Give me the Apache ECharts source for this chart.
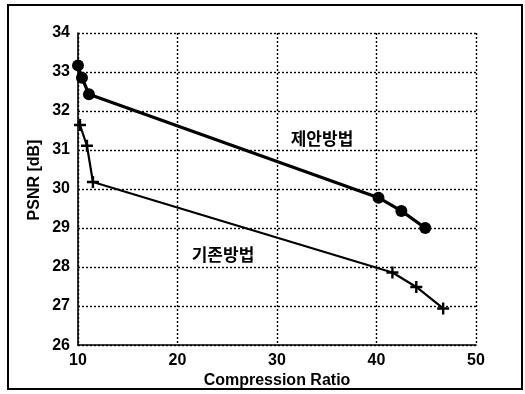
<!DOCTYPE html>
<html>
<head>
<meta charset="utf-8">
<script src="https://cdn.jsdelivr.net/npm/echarts@6/dist/echarts.min.js"></script>
<style>
  html, body { margin: 0; padding: 0; background: #fff; }
  #chart { width: 525px; height: 394px; }
</style>
</head>
<body>
<div id="chart"></div>
<script>
// Compression ratio vs. PSNR for the proposed and conventional methods
const proposedRatio = [10.0, 10.4, 11.1, 40.2, 42.5, 44.9];
const proposedPsnr  = [33.17, 32.85, 32.43, 29.78, 29.44, 29.0];
const conventionalRatio = [10.2, 10.9, 11.5, 41.6, 44.0, 46.7];
const conventionalPsnr  = [31.64, 31.11, 30.18, 27.86, 27.49, 26.94];
const proposedName = '제안방법';
const conventionalName = '기존방법';
const xTitle = 'Compression Ratio';
const yTitle = 'PSNR [dB]';

const pairs = (xs, ys) => xs.map((x, i) => [x, ys[i]]);

const numFont = { fontFamily: 'Liberation Sans', fontWeight: 'bold', fontSize: 16, color: '#000' };
const titleFont = { fontFamily: 'Liberation Sans', fontWeight: 'bold', fontSize: 16, color: '#000' };
const koFont = { fontFamily: 'Noto Sans CJK KR', fontWeight: 'bold', fontSize: 17, fill: '#000', align: 'center', verticalAlign: 'middle' };
const gridLine = { show: true, lineStyle: { color: '#000', type: [2, 2], width: 1.4 } };
const plusPath = 'path://M4,0 L6,0 L6,4 L10,4 L10,6 L6,6 L6,10 L4,10 L4,6 L0,6 L0,4 L4,4 Z';

const chart = echarts.init(document.getElementById('chart'), null, { renderer: 'canvas' });
chart.setOption({
  backgroundColor: '#fff',
  animation: false,
  grid: { left: 78, top: 33, width: 398, height: 315, containLabel: false },
  xAxis: {
    type: 'value', min: 10, max: 50, interval: 10,
    name: xTitle, nameLocation: 'middle', nameGap: 26,
    nameTextStyle: titleFont,
    axisLine: { show: true, lineStyle: { color: '#000', width: 1.6 } },
    axisTick: { show: false },
    axisLabel: Object.assign({ margin: 7 }, numFont),
    splitLine: gridLine
  },
  yAxis: {
    type: 'value', min: 26, max: 34, interval: 1,
    axisLine: { show: true, lineStyle: { color: '#000', width: 1.6 } },
    axisTick: { show: false },
    axisLabel: Object.assign({ margin: 8 }, numFont),
    splitLine: gridLine
  },
  series: [
    {
      name: proposedName, type: 'line',
      data: pairs(proposedRatio, proposedPsnr),
      symbol: 'circle', symbolSize: 12,
      lineStyle: { color: '#000', width: 3.2 },
      itemStyle: { color: '#000' }
    },
    {
      name: conventionalName, type: 'line',
      data: pairs(conventionalRatio, conventionalPsnr),
      symbol: plusPath, symbolSize: 12,
      lineStyle: { color: '#000', width: 2.2 },
      itemStyle: { color: '#000' }
    }
  ],
  graphic: [
    { type: 'rect', shape: { x: 8, y: 5, width: 514, height: 384 },
      style: { fill: 'none', stroke: '#000', lineWidth: 2 }, z: 100 },
    { type: 'text', x: 35, y: 180, rotation: Math.PI / 2,
      style: { text: yTitle, fontFamily: 'Liberation Sans', fontWeight: 'bold', fontSize: 16, fill: '#000', align: 'center', verticalAlign: 'middle' } },
    { type: 'text', x: 322, y: 139, style: Object.assign({ text: proposedName }, koFont) },
    { type: 'text', x: 223, y: 255, style: Object.assign({ text: conventionalName }, koFont) }
  ]
});
</script>
</body>
</html>
